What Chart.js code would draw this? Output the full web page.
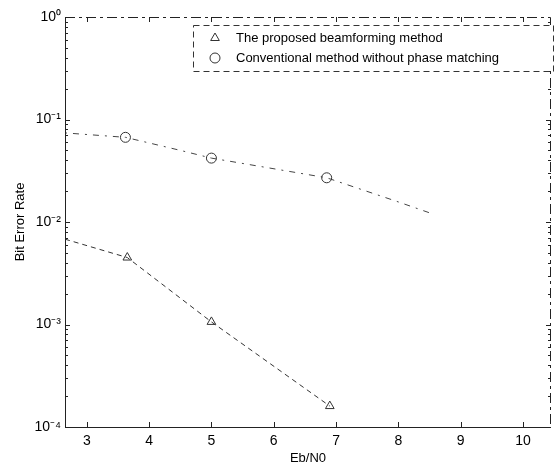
<!DOCTYPE html>
<html><head><meta charset="utf-8">
<script src="https://cdn.jsdelivr.net/npm/chart.js@4"></script>
<style>html,body{margin:0;padding:0;background:#fff}#wrap{width:557px;height:470px}</style>
</head><body><div id="wrap"><canvas id="c" width="557" height="470"></canvas></div>
<script>
const xTicks = [3,4,5,6,7,8,9,10];
const yTicks = [1e-4,1e-3,1e-2,1e-1,1];
const yTickLabels = ['10⁻⁴','10⁻³','10⁻²','10⁻¹','10⁰'];
const proposedX = [2.65, 3.65, 5.0, 6.9];
const proposedY = [0.0068, 0.0045, 0.00106, 0.00016];
const proposedMarkers = [0, 1, 1, 1];
const conventionalX = [2.65, 3.62, 4.5, 5.0, 6.85, 7.96, 8.55];
const conventionalY = [0.074, 0.067, 0.05, 0.042, 0.027, 0.016, 0.012];
const conventionalMarkers = [0, 1, 0, 1, 1, 0, 0];
const seriesNames = ['The proposed beamforming method','Conventional method without phase matching'];

const FONT = '"Liberation Sans", Arial, sans-serif';
const INK = '#222';

const framePlugin = {
  id: 'frame',
  afterDatasetsDraw(chart) {
    const {ctx, chartArea: a, scales} = chart;
    ctx.save();
    ctx.strokeStyle = INK; ctx.lineWidth = 1;
    ctx.beginPath();
    ctx.moveTo(a.left+0.5, a.top); ctx.lineTo(a.left+0.5, a.bottom+0.5); ctx.lineTo(a.right, a.bottom+0.5);
    ctx.stroke();
    ctx.setLineDash([10,4,3,4]);
    ctx.beginPath();
    ctx.moveTo(a.left, a.top+0.5); ctx.lineTo(a.right-0.5, a.top+0.5); ctx.lineTo(a.right-0.5, a.bottom);
    ctx.stroke();
    ctx.setLineDash([]);
    xTicks.forEach(v => {
      const x = Math.round(scales.x.getPixelForValue(v))+0.5;
      ctx.beginPath();
      ctx.moveTo(x, a.bottom); ctx.lineTo(x, a.bottom-5);
      ctx.moveTo(x, a.top); ctx.lineTo(x, a.top+5);
      ctx.stroke();
    });
    for (let d = -4; d < 0; d++) {
      for (let m = 1; m <= 9; m++) {
        const v = m * Math.pow(10, d);
        const y = Math.round(scales.y.getPixelForValue(v))+0.5;
        const len = m === 1 ? 5 : 3;
        ctx.beginPath();
        ctx.moveTo(a.left, y); ctx.lineTo(a.left+len, y);
        ctx.moveTo(a.right, y); ctx.lineTo(a.right-len, y);
        ctx.stroke();
      }
    }
    const lx = 193, ly = 25, lw = 360, lh = 46;
    ctx.fillStyle = '#fff';
    ctx.fillRect(lx, ly, lw, lh);
    ctx.setLineDash([6,4]);
    ctx.strokeStyle = '#333';
    ctx.strokeRect(lx+0.5, ly+0.5, lw, lh);
    ctx.setLineDash([]);
    const styles = ['triangle','circle'];
    [0,1].forEach(i => {
      const yy = ly + 13 + i*20;
      ctx.fillStyle = 'rgba(0,0,0,0)';
      ctx.strokeStyle = '#333';
      ctx.lineWidth = 1;
      Chart.helpers.drawPoint(ctx, {pointStyle: styles[i], radius: 5, borderWidth: 1}, 215, yy);
      ctx.font = '13px ' + FONT;
      ctx.fillStyle = '#000';
      ctx.textBaseline = 'middle';
      ctx.textAlign = 'left';
      ctx.fillText(seriesNames[i], 236, yy);
    });
    ctx.restore();
  }
};

new Chart(document.getElementById('c'), {
  type: 'line',
  data: {
    datasets: [
      {
        label: seriesNames[0],
        data: proposedX.map((x,i)=>({x, y: proposedY[i]})),
        borderColor: '#333', borderWidth: 1, borderDash: [5,4],
        pointStyle: 'triangle', pointRadius: proposedMarkers.map(m=>m?5:0),
        pointBorderColor: '#333', pointBackgroundColor: 'rgba(0,0,0,0)', pointBorderWidth: 1,
        tension: 0, fill: false
      },
      {
        label: seriesNames[1],
        data: conventionalX.map((x,i)=>({x, y: conventionalY[i]})),
        borderColor: '#444', borderWidth: 1, borderDash: [2,6,6,6],
        pointStyle: 'circle', pointRadius: conventionalMarkers.map(m=>m?5:0),
        pointBorderColor: '#333', pointBackgroundColor: 'rgba(0,0,0,0)', pointBorderWidth: 1,
        tension: 0, fill: false
      }
    ]
  },
  options: {
    responsive: false, animation: false, devicePixelRatio: 1,
    layout: {padding: {left: 9, right: 4, top: 17, bottom: 0}},
    plugins: {legend: {display: false}, tooltip: {enabled: false}},
    scales: {
      x: {
        type: 'linear', min: 2.65, max: 10.45,
        afterBuildTicks(s) { s.ticks = xTicks.map(v => ({value: v})); },
        afterFit(s) { s.height = 43; },
        grid: {display: false, drawTicks: false},
        border: {display: false},
        ticks: {color: '#000', font: {family: FONT, size: 14}, padding: 6, maxRotation: 0,
          callback: v => String(v)},
        title: {display: true, text: 'Eb/N0', color: '#000', font: {family: FONT, size: 13}, padding: {top: 2}}
      },
      y: {
        type: 'logarithmic', min: 1e-4, max: 1,
        afterBuildTicks(s) { s.ticks = yTicks.map(v => ({value: v})); },
        afterFit(s) { s.width = 56; },
        grid: {display: false, drawTicks: false},
        border: {display: false},
        ticks: {color: '#000', font: {family: FONT, size: 14}, padding: 4,
          callback: (v) => { const i = yTicks.findIndex(t => Math.abs(Math.log10(t) - Math.log10(v)) < 1e-6); return i >= 0 ? yTickLabels[i] : ''; }},
        title: {display: true, text: 'Bit Error Rate', color: '#000', font: {family: FONT, size: 13}, padding: {bottom: 4}}
      }
    }
  },
  plugins: [framePlugin]
});
</script></body></html>
